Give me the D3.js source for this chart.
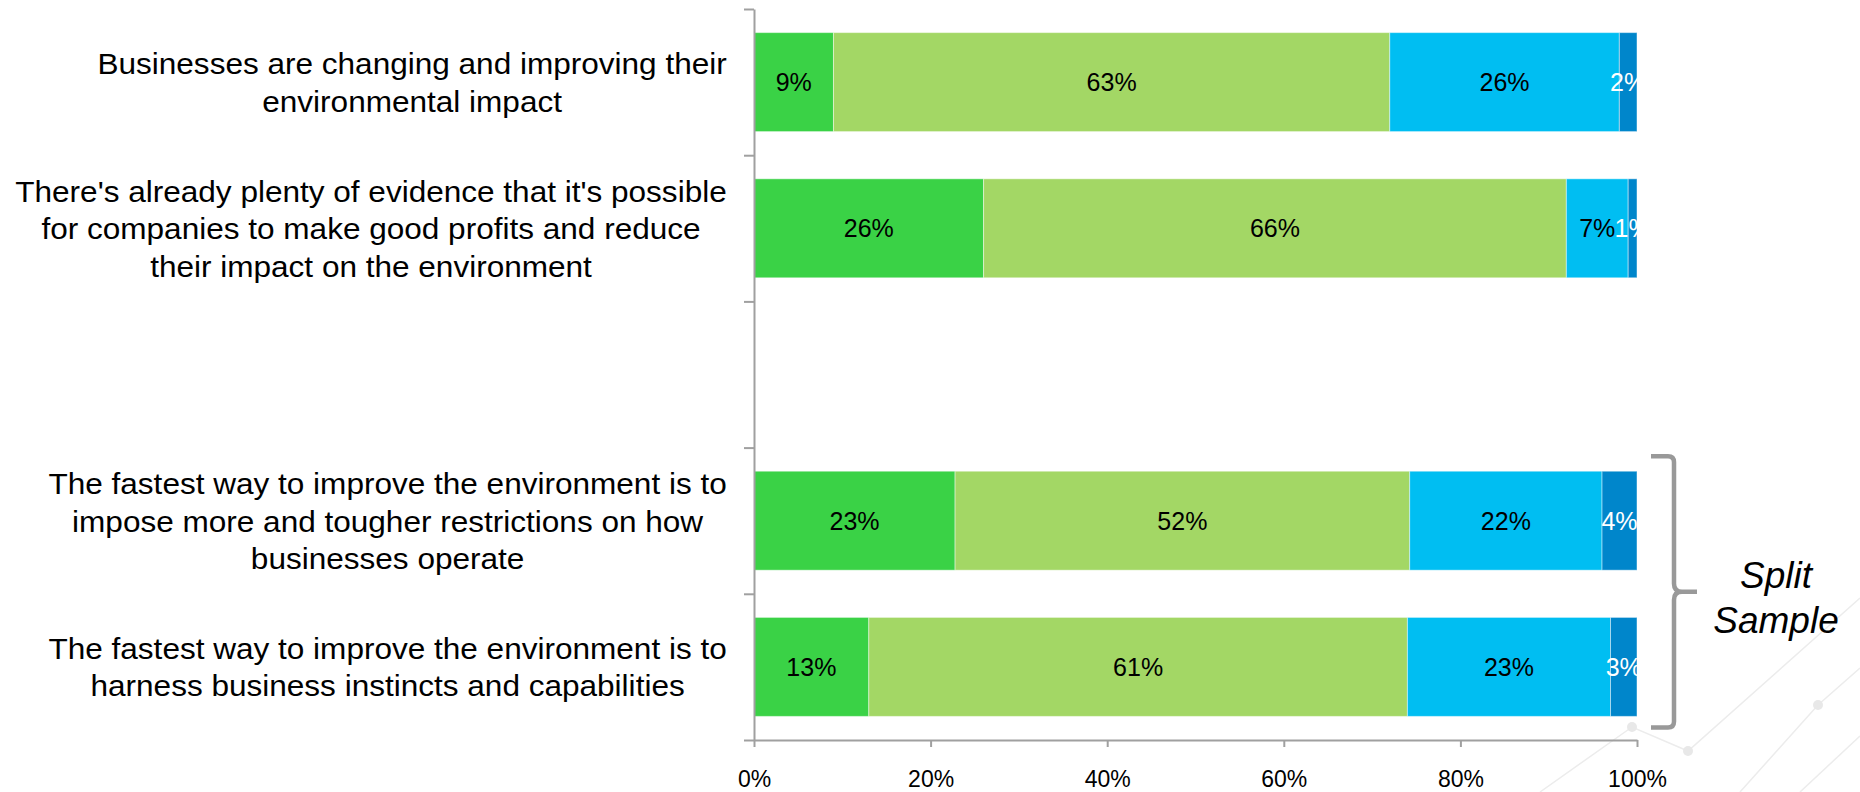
<!DOCTYPE html>
<html>
<head>
<meta charset="utf-8">
<script src="https://cdn.jsdelivr.net/npm/d3@7"></script>
<style>
  html, body { margin: 0; padding: 0; background: #fff; }
  svg { display: block; font-family: "Liberation Sans", Arial, sans-serif; }
</style>
</head>
<body>
<svg id="chart" width="1860" height="792"></svg>
<script>
// Statements (an empty slot leaves a gap between the two groups of rows)
const categories = [
  ["Businesses are changing and improving their", "environmental impact"],
  ["There's already plenty of evidence that it's possible", "for companies to make good profits and reduce", "their impact on the environment"],
  [],
  ["The fastest way to improve the environment is to", "impose more and tougher restrictions on how", "businesses operate"],
  ["The fastest way to improve the environment is to", "harness business instincts and capabilities"]
];

// Answer shares (%) per statement
const seriesNames = ["Strongly agree", "Tend to agree", "Tend to disagree", "Strongly disagree"];
const stronglyAgree    = [9, 26, null, 23, 13];
const tendToAgree      = [63, 66, null, 52, 61];
const tendToDisagree   = [26, 7, null, 22, 23];
const stronglyDisagree = [2, 1, null, 4, 3];

const xTicks = [0, 0.2, 0.4, 0.6, 0.8, 1];
const bracketLabel = ["Split", "Sample"];

const colors = ["#3AD246", "#A3D765", "#00BEF2", "#0086CB"];
const labelColors = ["#000", "#000", "#000", "#fff"];

const svg = d3.select("#chart");

// faint network pattern in the lower right corner
const deco = svg.append("g").attr("stroke", "#ececec").attr("stroke-width", 1.5).attr("fill", "none");
[
  [[1540, 792], [1632, 727], [1688, 751], [1860, 598]],
  [[1740, 792], [1818, 705], [1860, 668]],
  [[1800, 792], [1860, 736]]
].forEach(pts => deco.append("path").attr("d", d3.line()(pts)));
[[1632, 727], [1688, 751], [1818, 705]].forEach(p =>
  deco.append("circle").attr("cx", p[0]).attr("cy", p[1]).attr("r", 5).attr("fill", "#e8e8e8").attr("stroke", "none"));

const plotLeft = 754, plotRight = 1637, plotTop = 9, plotBottom = 740;

const x = d3.scaleLinear().domain([0, 1]).range([plotLeft, plotRight]);
const y = d3.scaleBand().domain(d3.range(categories.length)).range([plotTop, plotBottom])
  .paddingInner(0.323).paddingOuter(0.1615);

// build rows and stack them as shares of 100
const rows = categories.map((c, i) => ({
  i,
  [seriesNames[0]]: stronglyAgree[i],
  [seriesNames[1]]: tendToAgree[i],
  [seriesNames[2]]: tendToDisagree[i],
  [seriesNames[3]]: stronglyDisagree[i]
})).filter(r => r[seriesNames[0]] != null);

const stack = d3.stack().keys(seriesNames).offset(d3.stackOffsetExpand);
const layers = stack(rows);

const bars = svg.append("g");
layers.forEach((layer, k) => {
  bars.append("g").selectAll("rect").data(layer).join("rect")
    .attr("x", d => x(d[0]))
    .attr("y", d => y(d.data.i))
    .attr("width", d => x(d[1]) - x(d[0]))
    .attr("height", y.bandwidth())
    .attr("fill", colors[k])
    .attr("stroke", "rgba(255,255,255,0.45)")
    .attr("stroke-width", 1);
});
// value labels
layers.forEach((layer, k) => {
  bars.append("g").selectAll("text").data(layer).join("text")
    .attr("x", d => (x(d[0]) + x(d[1])) / 2)
    .attr("y", d => y(d.data.i) + y.bandwidth() / 2)
    .attr("dy", "0.36em")
    .attr("text-anchor", "middle")
    .attr("font-size", 25)
    .attr("fill", labelColors[k])
    .text(d => d.data[seriesNames[k]] + "%");
});

// category axis: line with ticks at band boundaries
const yEdges = d3.scaleLinear().domain([0, categories.length]).range([plotTop, plotBottom]);
const yAxis = svg.append("g").attr("transform", `translate(${plotLeft},0)`)
  .call(d3.axisLeft(yEdges).tickValues(d3.range(categories.length + 1)).tickSize(10).tickSizeOuter(0).tickFormat(""));
yAxis.selectAll("path,line").attr("stroke", "#a0a0a0").attr("stroke-width", 2);

// value axis
const xAxis = svg.append("g").attr("transform", `translate(0,${plotBottom})`)
  .call(d3.axisBottom(x).tickValues(xTicks).tickFormat(d3.format(".0%")).tickSize(7).tickSizeOuter(0));
xAxis.select(".domain").attr("stroke", "#a0a0a0").attr("stroke-width", 2);
xAxis.selectAll(".tick line").attr("stroke", "#a0a0a0").attr("stroke-width", 2);
xAxis.selectAll("text").attr("y", 47).attr("dy", 0).attr("font-size", 23)
  .attr("fill", "#000").attr("font-family", "Liberation Sans, Arial, sans-serif");

// category labels: block right-aligned to the axis, lines centred within the block
const labelRight = 727, lineH = 37.5, labelFont = 30;
const labels = svg.append("g").attr("font-size", labelFont).attr("fill", "#000");
const probe = labels.append("text").text(categories[1][0]);
const stretch = 712 / probe.node().getComputedTextLength();
probe.remove();
categories.forEach((lines, i) => {
  if (!lines.length) return;
  const cy = y(i) + y.bandwidth() / 2;
  const g = labels.append("g");
  const t = g.append("text").attr("text-anchor", "middle");
  lines.forEach((ln, j) => {
    t.append("tspan").attr("x", 0).attr("y", (j - (lines.length - 1) / 2) * lineH).attr("dy", "0.36em").text(ln);
  });
  const widest = d3.max(t.selectAll("tspan").nodes(), n => n.getComputedTextLength()) * stretch;
  g.attr("transform", `translate(${labelRight - widest / 2},${cy}) scale(${stretch},1)`);
});

// bracket grouping the last two statements
const bTop = y(3) - 15, bBot = y(4) + y.bandwidth() + 11, bx = 1674, bMid = (bTop + bBot) / 2;
svg.append("path")
  .attr("d", `M${bx - 23},${bTop} L${bx - 6},${bTop} Q${bx},${bTop} ${bx},${bTop + 6}
              L${bx},${bMid - 8} Q${bx},${bMid} ${bx + 8},${bMid} L${bx + 23},${bMid}
              M${bx + 8},${bMid} Q${bx},${bMid} ${bx},${bMid + 8}
              L${bx},${bBot - 6} Q${bx},${bBot} ${bx - 6},${bBot} L${bx - 23},${bBot}`)
  .attr("fill", "none").attr("stroke", "#999").attr("stroke-width", 4.5);

const bl = svg.append("text").attr("text-anchor", "middle").attr("font-size", 37)
  .attr("font-style", "italic").attr("fill", "#000");
bracketLabel.forEach((s, j) => bl.append("tspan").attr("x", 1776).attr("y", 588 + j * 45).text(s));
</script>
</body>
</html>
